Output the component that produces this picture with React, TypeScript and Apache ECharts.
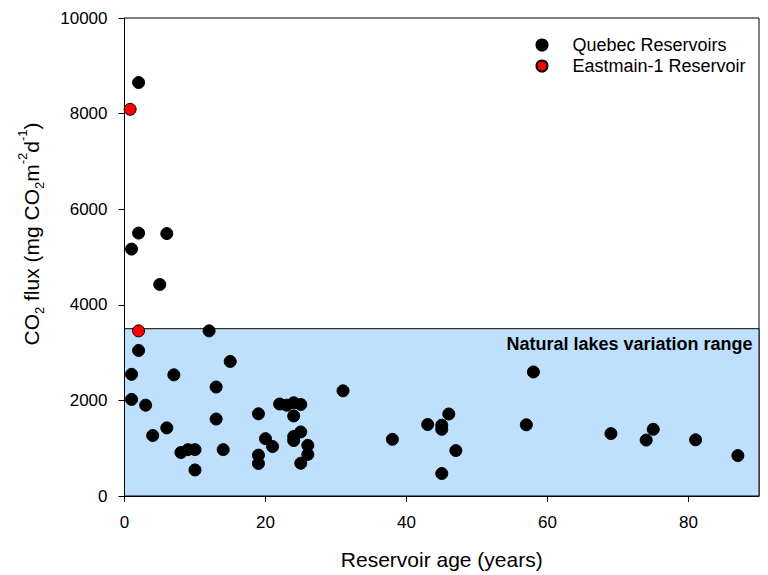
import React, { useEffect, useRef } from "react";
import * as echarts from "echarts";

const quebecAge = [2, 2, 6, 1, 5, 12, 2, 15, 1, 7, 13, 1, 3, 13, 6, 4, 8, 9, 10, 14, 10, 31, 22, 23, 24, 25, 19, 24, 20, 21, 24, 24, 25, 26, 26, 19, 19, 25, 58, 38, 43, 45, 45, 46, 47, 45, 57, 69, 74, 75, 81, 87];
const quebecFlux = [8650, 5500, 5490, 5165, 4425, 3455, 3045, 2815, 2545, 2535, 2280, 2020, 1900, 1610, 1425, 1265, 910, 970, 970, 970, 545, 2200, 1925, 1900, 1950, 1915, 1720, 1675, 1200, 1035, 1245, 1160, 1340, 1060, 870, 855, 680, 685, 2595, 1185, 1495, 1480, 1395, 1715, 950, 470, 1490, 1305, 1170, 1395, 1175, 845];
const eastmainAge = [0.8, 2];
const eastmainFlux = [8090, 3455];
const xTicks = [0, 20, 40, 60, 80];
const naturalRange = [0, 3500];

export default function App() {
  const ref = useRef<HTMLDivElement>(null);
  useEffect(() => {
    const chart = echarts.init(ref.current!, null, { renderer: "svg" });
    const font = "Liberation Sans, Arial, sans-serif";
    chart.setOption({
      animation: false,
      textStyle: { fontFamily: font },
      grid: { left: 124.5, right: 9, top: 18, bottom: 75, show: true, borderColor: "#000", borderWidth: 1 },
      legend: {
        orient: "vertical",
        left: 535.5,
        top: 36,
        padding: 0,
        itemWidth: 11,
        itemHeight: 11,
        itemGap: 3,
        icon: "circle",
        textStyle: { fontSize: 18, color: "#000", fontFamily: font, padding: [0, 0, 0, 20] },
        data: ["Quebec Reservoirs", "Eastmain-1 Reservoir"],
      },
      xAxis: {
        type: "value",
        min: 0,
        max: 90,
        interval: 20,
        name: "Reservoir age (years)",
        nameLocation: "middle",
        nameGap: 53,
        nameTextStyle: { fontSize: 21, color: "#000", fontFamily: font },
        axisLine: { show: true, lineStyle: { color: "#000", width: 1 } },
        axisTick: { show: true, length: 6, customValues: xTicks, lineStyle: { color: "#000" } },
        axisLabel: { customValues: xTicks, fontSize: 17, color: "#000", margin: 18, fontFamily: font },
        splitLine: { show: false },
      },
      yAxis: {
        type: "value",
        min: 0,
        max: 10000,
        interval: 2000,
        axisLine: { show: true, lineStyle: { color: "#000", width: 1 } },
        axisTick: { show: true, length: 6, lineStyle: { color: "#000" } },
        axisLabel: { fontSize: 17, color: "#000", margin: 17, fontFamily: font, formatter: (v: number) => String(v) },
        splitLine: { show: false },
      },
      graphic: [
        {
          type: "text",
          x: 31,
          y: 234,
          rotation: Math.PI / 2,
          style: {
            text: "{a|CO}{s|2}{a| flux (mg CO}{s|2}{a|m}{p|-2}{a|d}{p|-1}{a|)}",
            align: "center",
            verticalAlign: "middle",
            fill: "#000",
            rich: {
              a: { fontSize: 21, fontFamily: font, lineHeight: 30, verticalAlign: "middle", fill: "#000" },
              s: { fontSize: 13, fontFamily: font, lineHeight: 30, verticalAlign: "bottom", fill: "#000" },
              p: { fontSize: 13, fontFamily: font, lineHeight: 30, verticalAlign: "top", fill: "#000" },
            },
          },
        },
      ],
      series: [
        {
          name: "Quebec Reservoirs",
          type: "scatter",
          symbol: "circle",
          symbolSize: 12,
          itemStyle: { color: "#000", borderColor: "#000", borderWidth: 1, opacity: 1 },
          data: quebecAge.map((a, i) => [a, quebecFlux[i]]),
          z: 3,
          markArea: {
            silent: true,
            itemStyle: { color: "#bfe0fd", borderColor: "#000", borderWidth: 1, opacity: 1 },
            label: {
              show: true,
              position: "insideTopRight",
              distance: 7,
              formatter: "Natural lakes variation range",
              fontSize: 18,
              fontWeight: "bold",
              color: "#000",
              fontFamily: font,
            },
            data: [[{ name: "Natural lakes variation range", coord: [0, naturalRange[1]] }, { coord: [90, naturalRange[0]] }]],
          },
        },
        {
          name: "Eastmain-1 Reservoir",
          type: "scatter",
          symbol: "circle",
          symbolSize: 12,
          itemStyle: { color: "#ff0000", borderColor: "#000", borderWidth: 1, opacity: 1 },
          data: eastmainAge.map((a, i) => [a, eastmainFlux[i]]),
          z: 4,
        },
      ],
    });
    return () => chart.dispose();
  }, []);
  return <div ref={ref} style={{ position: "absolute", left: 0, top: 0, width: 768, height: 575 }} />;
}
